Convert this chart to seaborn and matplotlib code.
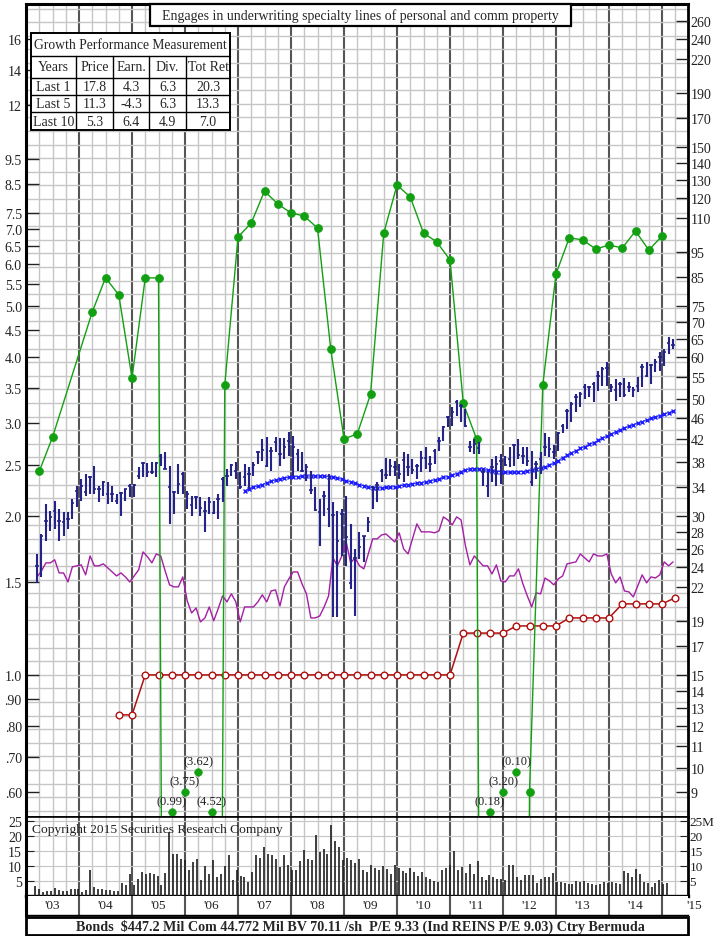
import numpy as np
import matplotlib
matplotlib.use("Agg")
import matplotlib.pyplot as plt
from matplotlib.patches import Rectangle
from matplotlib.lines import Line2D
from matplotlib.ticker import NullLocator
import seaborn as sns

W, H = 715, 937

# ---- data ----
# monthly price bars ($, right scale), first bar = Mar 2003
price_high = [
    25.4, 27.75, 31.6, 30.7, 32.0, 30.9, 30.5, 30.5, 32.3, 34.2,
    35.3, 36.1, 35.7, 37.3, 34.2, 35.0, 34.8, 34.2, 33.0, 33.3,
    33.8, 34.5, 34.5, 37.2, 38.0, 37.8, 38.0, 38.0, 39.35, 39.7,
    37.3, 33.5, 37.7, 36.4, 33.5, 32.75, 32.75, 32.6, 32.0, 32.6,
    32.0, 33.0, 35.6, 36.85, 37.7, 38.0, 36.4, 37.7, 37.2, 38.0,
    39.9, 42.0, 42.4, 40.6, 42.4, 42.2, 42.2, 43.3, 42.6, 40.2,
    39.7, 37.7, 36.5, 34.0, 32.3, 33.5, 36.1, 31.9, 30.7, 30.9,
    32.75, 29.0, 26.0, 28.0, 27.5, 29.9, 34.2, 34.8, 36.85, 38.7,
    38.5, 38.2, 37.7, 39.7, 39.35, 38.5, 37.7, 39.9, 40.6, 39.0,
    40.2, 42.4, 44.5, 46.4, 48.3, 49.8, 48.95, 47.9, 41.6, 42.0,
    41.5, 36.85, 36.4, 38.5, 39.0, 39.35, 39.0, 40.6, 41.1, 42.0,
    40.6, 40.6, 39.9, 38.2, 39.7, 43.0, 42.4, 40.8, 43.3, 44.9,
    47.9, 49.4, 51.1, 51.5, 53.35, 52.9, 53.8, 56.5, 57.5, 58.7,
    53.35, 54.5, 53.8, 54.7, 53.8, 52.7, 55.0, 58.2, 58.7, 58.2,
    59.5, 61.4, 62.2, 65.5, 64.9,
]
price_low = [
    22.4, 23.0, 26.9, 28.1, 28.35, 26.9, 27.5, 28.35, 29.6, 31.2,
    32.0, 32.75, 33.0, 33.0, 31.9, 32.75, 31.6, 31.9, 31.6, 30.0,
    32.0, 32.6, 32.6, 35.3, 35.6, 35.6, 36.1, 35.6, 37.3, 36.85,
    29.0, 30.3, 33.0, 33.0, 30.9, 30.0, 30.9, 30.0, 28.0, 30.3,
    30.3, 29.6, 31.9, 34.2, 35.7, 35.3, 33.8, 34.2, 33.8, 35.7,
    37.7, 38.2, 37.2, 36.5, 39.7, 37.3, 38.5, 39.0, 35.7, 36.5,
    36.4, 35.0, 33.0, 30.7, 26.3, 30.0, 28.6, 19.3, 19.3, 25.2,
    24.1, 21.8, 19.4, 24.9, 24.5, 28.0, 30.9, 31.9, 34.8, 35.3,
    35.7, 35.7, 35.3, 34.8, 35.7, 36.1, 35.3, 36.4, 36.85, 36.4,
    37.7, 39.9, 41.6, 44.3, 44.5, 46.4, 45.2, 44.3, 39.7, 39.35,
    39.35, 34.2, 32.6, 34.8, 34.2, 34.5, 37.3, 37.2, 37.3, 38.5,
    37.7, 37.3, 34.2, 35.3, 36.1, 39.0, 38.8, 38.5, 39.9, 43.0,
    43.9, 45.2, 47.3, 48.3, 50.0, 50.4, 49.4, 51.8, 52.9, 52.9,
    51.5, 49.6, 50.4, 50.4, 51.5, 50.4, 51.5, 52.7, 55.0, 53.35,
    56.2, 56.5, 57.7, 60.85, 62.2,
]
price_close = [
    24.1, 27.5, 29.4, 29.9, 30.7, 29.4, 29.2, 29.6, 31.8, 33.5,
    34.2, 33.3, 35.6, 33.8, 33.8, 34.8, 33.0, 33.0, 32.0, 33.2,
    33.8, 34.2, 34.4, 35.7, 37.8, 36.4, 36.4, 37.8, 39.0, 36.85,
    34.0, 33.3, 34.5, 36.1, 33.0, 31.5, 32.6, 31.1, 30.7, 31.9,
    30.4, 32.3, 35.3, 35.7, 37.5, 36.5, 34.0, 35.6, 36.1, 37.5,
    39.7, 40.0, 37.3, 39.9, 41.5, 39.35, 40.6, 41.6, 40.6, 39.35,
    36.5, 37.2, 33.6, 30.8, 30.5, 32.75, 30.9, 30.1, 26.9, 30.3,
    27.4, 22.4, 25.0, 26.2, 27.5, 29.2, 34.0, 34.4, 36.5, 35.9,
    37.3, 37.2, 36.1, 38.3, 37.2, 36.7, 37.3, 38.7, 38.7, 37.7,
    39.9, 41.6, 44.3, 46.2, 47.3, 49.4, 48.5, 44.5, 40.6, 41.1,
    40.4, 36.4, 34.2, 37.2, 37.7, 38.2, 37.5, 38.5, 40.8, 39.2,
    39.0, 38.2, 34.8, 37.7, 38.5, 40.6, 40.2, 39.7, 43.0, 44.5,
    47.5, 49.0, 50.4, 51.1, 52.7, 52.7, 53.35, 55.2, 56.95, 57.2,
    52.7, 52.0, 53.35, 50.9, 52.7, 52.0, 52.9, 57.5, 55.2, 57.95,
    58.7, 60.0, 61.4, 63.9, 63.3,
]
# moving average ($), starts at bar MA_START
MA_START = 47
moving_avg = [
    33.5, 33.8, 34.0, 34.2, 34.4, 34.7, 34.9, 35.1, 35.3, 35.4,
    35.5, 35.6, 35.6, 35.7, 35.7, 35.7, 35.7, 35.7, 35.7, 35.6,
    35.5, 35.4, 35.2, 35.0, 34.8, 34.6, 34.4, 34.2, 34.0, 33.9,
    33.9, 33.9, 34.0, 34.0, 34.1, 34.2, 34.3, 34.4, 34.5, 34.6,
    34.7, 34.8, 35.0, 35.1, 35.3, 35.5, 35.6, 35.8, 36.1, 36.4,
    36.7, 36.8, 36.85, 36.85, 36.8, 36.6, 36.5, 36.4, 36.4, 36.3,
    36.3, 36.3, 36.4, 36.4, 36.5, 36.6, 36.8, 37.0, 37.2, 37.4,
    37.8, 38.2, 38.7, 39.1, 39.5, 39.9, 40.3, 40.6, 41.0, 41.3,
    41.7, 42.1, 42.5, 42.9, 43.3, 43.7, 44.0, 44.4, 44.7, 45.0,
    45.3, 45.6, 45.9, 46.2, 46.5, 46.8, 47.1, 47.4,
]
# relative strength (left scale), monthly
rel_strength = [
    1.533, 1.574, 1.630, 1.630, 1.652, 1.560, 1.560, 1.500, 1.602, 1.609,
    1.616, 1.547, 1.680, 1.609, 1.609, 1.623, 1.595, 1.567, 1.540, 1.560,
    1.533, 1.500, 1.540, 1.581, 1.710, 1.674, 1.630, 1.695, 1.680, 1.574,
    1.481, 1.468, 1.468, 1.533, 1.381, 1.310, 1.339, 1.260, 1.282, 1.345,
    1.266, 1.334, 1.411, 1.375, 1.424, 1.375, 1.260, 1.345, 1.345, 1.345,
    1.375, 1.418, 1.375, 1.442, 1.449, 1.351, 1.468, 1.520, 1.567, 1.567,
    1.487, 1.424, 1.282, 1.282, 1.293, 1.345, 1.411, 1.666, 1.609, 1.680,
    1.786, 1.630, 1.666, 1.609, 1.588, 1.695, 1.810, 1.810, 1.841, 1.849,
    1.817, 1.786, 1.858, 1.732, 1.695, 1.810, 1.932, 1.866, 1.866, 1.866,
    1.858, 1.874, 1.992, 1.966, 1.924, 1.992, 1.966, 1.755, 1.616, 1.680,
    1.644, 1.609, 1.609, 1.553, 1.616, 1.507, 1.500, 1.540, 1.540, 1.588,
    1.487, 1.411, 1.345, 1.430, 1.424, 1.526, 1.507, 1.481, 1.520, 1.540,
    1.623, 1.630, 1.637, 1.695, 1.666, 1.637, 1.695, 1.680, 1.680, 1.695,
    1.553, 1.494, 1.533, 1.442, 1.436, 1.405, 1.474, 1.547, 1.494, 1.533,
    1.526, 1.547, 1.637, 1.609, 1.637,
]
# quarterly earnings (left scale), negatives shown as labels at the bottom
earn_dates = [
    2003.25, 2003.5, 2004.25, 2004.5, 2004.75, 2005.0, 2005.25, 2005.5,
    2005.75, 2006.0, 2006.25, 2006.5, 2006.75, 2007.0, 2007.25, 2007.5,
    2007.75, 2008.0, 2008.25, 2008.5, 2008.75, 2009.0, 2009.25, 2009.5,
    2009.75, 2010.0, 2010.25, 2010.5, 2010.75, 2011.0, 2011.25, 2011.5,
    2011.75, 2012.0, 2012.25, 2012.5, 2012.75, 2013.0, 2013.25, 2013.5,
    2013.75, 2014.0, 2014.25, 2014.5, 2014.75, 2015.0,
]
earnings = [
    2.43, 2.82, 4.87, 5.65, 5.25, 3.65, 5.65, 5.65,
    -0.99, -3.75, -3.62, -4.52, 3.54, 6.75, 7.18, 8.25,
    7.80, 7.50, 7.40, 7.02, 4.14, 2.80, 2.86, 3.40,
    6.87, 8.47, 8.04, 6.87, 6.61, 6.11, 3.27, 2.80,
    -0.18, -3.20, -0.10, 0.60, 3.54, 5.75, 6.73, 6.67,
    6.41, 6.52, 6.44, 6.93, 6.38, 6.78,
]
# quarterly dividends (left scale), from Q4 2004
DIV_FIRST = 2004.75
dividends = [0.84, 0.84] + [1.0] * 24 + [1.20] * 4 + [1.238] * 4 + [1.282] * 4 + [1.363] * 4 + [1.40]
# volume (millions of shares)
volume = [
    3.3, 2.2, 1.3, 1.6, 1.7, 2.8, 1.9, 1.6, 1.7, 2.2,
    2.4, 2.4, 1.3, 1.9, 8.8, 2.9, 2.4, 2.2, 2.1, 1.9,
    1.6, 1.6, 4.4, 3.6, 7.4, 3.8, 5.6, 8.0, 7.2, 7.6,
    7.4, 6.7, 3.8, 7.8, 21.3, 13.9, 13.9, 12.4, 11.9, 8.8,
    11.3, 12.2, 5.2, 10.0, 7.2, 11.9, 6.2, 7.4, 9.9, 13.6,
    5.4, 8.6, 6.6, 6.3, 4.7, 8.0, 13.8, 12.8, 16.3, 13.9,
    13.8, 12.4, 9.6, 13.7, 10.2, 8.6, 8.6, 11.8, 15.2, 12.2,
    12.1, 20.2, 14.7, 15.6, 13.9, 23.6, 18.2, 16.3, 11.9, 12.8,
    11.9, 11.1, 12.4, 8.6, 8.0, 10.2, 9.4, 8.6, 10.0, 9.1,
    7.4, 10.2, 9.3, 8.2, 7.8, 9.3, 8.0, 6.7, 8.0, 6.3,
    5.8, 4.9, 4.7, 8.6, 9.3, 10.2, 14.9, 8.6, 9.7, 7.8,
    10.8, 7.4, 11.7, 6.3, 5.2, 7.1, 6.3, 5.8, 5.8, 5.2,
    10.4, 10.4, 6.2, 5.4, 6.9, 7.1, 7.1, 4.4, 5.8, 6.2,
    6.2, 7.8, 4.7, 4.7, 4.4, 4.1, 4.1, 4.9, 4.7, 4.9,
    4.2, 4.1, 3.8, 4.1, 4.7, 4.4, 4.7, 4.3, 4.1, 8.2,
    7.8, 6.3, 9.1, 7.4, 4.7, 4.4, 2.9, 4.4, 5.2, 4.1,
    4.4,
]

LEFT_TICKS = [16, 14, 12, 9.5, 8.5, 7.5, 7.0, 6.5, 6.0, 5.5, 5.0, 4.5, 4.0, 3.5, 3.0,
              2.5, 2.0, 1.5, 1.0, 0.9, 0.8, 0.7, 0.6]
LEFT_LABELS = ["16", "14", "12", "9.5", "8.5", "7.5", "7.0", "6.5", "6.0", "5.5", "5.0",
               "4.5", "4.0", "3.5", "3.0", "2.5", "2.0", "1.5", "1.0", ".90", ".80", ".70", ".60"]
RIGHT_TICKS = [260, 240, 220, 190, 170, 150, 140, 130, 120, 110, 95, 85, 75, 70, 65, 60,
               55, 50, 46, 42, 38, 34, 30, 28, 26, 24, 22, 19, 17, 15, 14, 13, 12, 11, 10, 9]
PRICE_RATIO = 15  # right scale = left scale x 15

TITLE = "Engages in underwriting specialty lines of personal and comm property"
FOOTER = r"Bonds  \$447.2 Mil Com 44.772 Mil BV 70.11 /sh  P/E 9.33 (Ind REINS P/E 9.03) Ctry Bermuda"
COPYRIGHT = "Copyright 2015 Securities Research Company"
TABLE_TITLE = "Growth Performance Measurement"
TABLE_HEAD = ["Years", "Price", "Earn.", "Div.", "Tot Ret"]
TABLE_ROWS = [
    ["Last 1", "17.8", "4.3", "6.3", "20.3"],
    ["Last 5", "11.3", "-4.3", "6.3", "13.3"],
    ["Last 10", "5.3", "6.4", "4.9", "7.0"],
]
YEAR_LABELS = ["'03", "'04", "'05", "'06", "'07", "'08", "'09", "'10", "'11", "'12", "'13", "'14"]

# ---- layout / style ----
X0, X1 = 2003.0, 2015.49
LO, HI = 0.538, 18.66
NEG_LEVELS = [0.55, 0.60, 0.655]
NAVY = "#23238a"
GREEN = "#12a012"
RED = "#b01010"
PURPLE = "#a41fa4"
MA_BLUE = "#1c1cff"
LIGHT = "#c6c6c6"
DARK = "#555555"

sns.set_style("white")
plt.rcParams["font.family"] = ["Liberation Serif", "DejaVu Serif"]

month_dates = 2003 + (2.5 + np.arange(len(price_close))) / 12
div_dates = DIV_FIRST + 0.25 * np.arange(len(dividends))
vol_dates = np.linspace(2003.17, 2015.1, len(volume))


def fbox(x0, y0, x1, y1):
    return [x0 / W, 1 - y1 / H, (x1 - x0) / W, (y1 - y0) / H]


def fx(x):
    return x / W


def fy(y):
    return 1 - y / H


fig = plt.figure(figsize=(W / 100, H / 100), dpi=100)
ax = fig.add_axes(fbox(26, 5, 688, 818))
vax = fig.add_axes(fbox(26, 818, 688, 897))
lax = fig.add_axes(fbox(26, 897, 688, 916))

ax.set_yscale("log")
ax.set_xlim(X0, X1)
ax.set_ylim(LO, HI)

# grid
quarters = np.arange(X0 + 0.25, X1, 0.25)
for q in quarters:
    is_year = abs(q - round(q)) < 1e-6
    for a in (ax, vax):
        a.axvline(q, color=DARK if is_year else LIGHT, lw=1.5 if is_year else 1.0, zorder=0.5)
    if is_year:
        lax.axvline(q, color=DARK, lw=1.5)
for v in 10 ** (np.arange(-12, 50) * 0.02576):
    if LO < v < HI:
        ax.axhline(v, color=LIGHT, lw=1.0, zorder=0.5)

# relative strength, dividends, earnings on left scale
sns.lineplot(x=month_dates, y=rel_strength, ax=ax, color=PURPLE, lw=1.0,
             estimator=None, sort=False, zorder=3)
sns.lineplot(x=div_dates, y=dividends, ax=ax, color=RED, lw=1.1, marker="o",
             markersize=4.8, markerfacecolor="white", markeredgecolor=RED,
             markeredgewidth=1.0, estimator=None, sort=False, zorder=4)
earn_line = [v if v > 0 else 1e-4 for v in earnings]
sns.lineplot(x=earn_dates, y=earn_line, ax=ax, color=GREEN, lw=1.0, marker="o",
             markersize=5.5, markeredgecolor=GREEN, estimator=None, sort=False, zorder=5)

run = 0
neg_x, neg_y = [], []
for d, v in zip(earn_dates, earnings):
    if v < 0:
        lvl = NEG_LEVELS[run % 3]
        neg_x.append(d)
        neg_y.append(lvl)
        ax.annotate(f"({abs(v):.2f})", (d, lvl), xytext=(0, 7.5), textcoords="offset points",
                    ha="center", va="center", fontsize=9, color="#222222", zorder=6)
        run += 1
    else:
        run = 0
sns.scatterplot(x=neg_x, y=neg_y, ax=ax, color=GREEN, s=30, edgecolor=GREEN, zorder=6)

ax.set_yticks(LEFT_TICKS)
ax.set_yticklabels(LEFT_LABELS)
ax.yaxis.set_minor_locator(NullLocator())
ax.tick_params(axis="y", direction="in", length=9, width=1, labelsize=10, pad=3, colors="#222222")
ax.set_xticks([])
ax.set_xlabel("")
ax.set_ylabel("")
for s, lw in (("left", 2.2), ("top", 2.2), ("right", 2.0), ("bottom", 1.2)):
    ax.spines[s].set_linewidth(lw)
    ax.spines[s].set_color("black")

# price bars + moving average on right scale
ax2 = ax.twinx()
ax2.set_yscale("log")
ax2.set_ylim(LO * PRICE_RATIO, HI * PRICE_RATIO)
ax2.vlines(month_dates, price_low, price_high, color=NAVY, lw=1.5, zorder=3)
ax2.hlines(price_close, month_dates - 0.032, month_dates + 0.032, color=NAVY, lw=1.2, zorder=3)
sns.lineplot(x=month_dates[MA_START:], y=moving_avg, ax=ax2, color=MA_BLUE, lw=0.6,
             marker="x", markersize=3.0, markeredgewidth=1.0, markeredgecolor=MA_BLUE,
             estimator=None, sort=False)
ax2.set_yticks(RIGHT_TICKS)
ax2.set_yticklabels([str(t) for t in RIGHT_TICKS])
ax2.yaxis.set_minor_locator(NullLocator())
ax2.tick_params(axis="y", direction="in", length=9, width=1, labelsize=10, pad=2, colors="#222222")
ax2.set_ylabel("")
for s in ax2.spines.values():
    s.set_visible(False)

# volume
vax.set_xlim(X0, X1)
vax.set_ylim(0, 26.33)
vax.vlines(vol_dates, 0, volume, color="#1e1e1e", lw=1.2, zorder=3)
for v in (5, 10, 15, 20, 25):
    vax.axhline(v, color=LIGHT, lw=0.8, zorder=0.5)
vax.set_yticks([5, 10, 15, 20, 25])
vax.set_yticklabels(["5", "10", "15", "20", "25"])
vax.tick_params(axis="y", direction="in", length=6, labelsize=10, pad=3, colors="#222222")
vax.set_xticks([])
vax2 = vax.twinx()
vax2.set_ylim(0, 26.33)
vax2.set_yticks([5, 10, 15, 20, 25])
vax2.set_yticklabels(["5", "10", "15", "20", "25M"])
vax2.tick_params(axis="y", direction="in", length=6, labelsize=9.5, pad=1, colors="#222222")
for s in vax2.spines.values():
    s.set_visible(False)
for s, lw in (("left", 2.2), ("right", 2.0), ("top", 1.2), ("bottom", 2.4)):
    vax.spines[s].set_linewidth(lw)
    vax.spines[s].set_color("black")
vax.text(2003.12, 22.3, COPYRIGHT, fontsize=9.7, va="center", ha="left", color="#222222", zorder=5)

# year label strip
lax.set_xlim(X0, X1)
lax.set_ylim(0, 1)
lax.set_xticks([])
lax.set_yticks([])
for i, lab in enumerate(YEAR_LABELS):
    lax.text(2003.5 + i, 0.5, lab, ha="center", va="center", fontsize=9.5, color="#222222")
lax.text(2015.6, 0.5, "'15", ha="center", va="center", fontsize=9.5, color="#222222",
         clip_on=False, zorder=5)
for s, lw in (("left", 2.2), ("right", 0), ("top", 0), ("bottom", 1.0)):
    lax.spines[s].set_linewidth(lw)
    lax.spines[s].set_color("black")

# footer box
fig.add_artist(Rectangle((fx(26), fy(936)), 662 / W, 18 / H, transform=fig.transFigure,
                         fill=False, lw=2.0, ec="black"))
fig.text(fx(360), fy(927), FOOTER, ha="center", va="center", fontsize=10.2, fontweight="bold")

# title box
fig.add_artist(Rectangle((fx(150), fy(27)), (571 - 150) / W, 22 / H, transform=fig.transFigure,
                         fc="white", lw=1.6, ec="black"))
fig.text(fx(360.5), fy(16.5), TITLE, ha="center", va="center", fontsize=10, zorder=4)

# growth table
cols = [31, 76, 113, 149, 186, 230]
rows = [34, 57, 79, 96, 113, 131]
fig.add_artist(Rectangle((fx(cols[0]), fy(rows[-1])), (cols[-1] - cols[0]) / W,
                         (rows[-1] - rows[0]) / H, transform=fig.transFigure,
                         fc="white", lw=1.4, ec="black"))
for r in rows[1:-1]:
    fig.add_artist(Line2D([fx(cols[0]), fx(cols[-1])], [fy(r), fy(r)],
                          transform=fig.transFigure, color="black", lw=1.0))
for c in cols[1:-1]:
    fig.add_artist(Line2D([fx(c), fx(c)], [fy(rows[1]), fy(rows[-1])],
                          transform=fig.transFigure, color="black", lw=1.0))
fig.text(fx((cols[0] + cols[-1]) / 2), fy((rows[0] + rows[1]) / 2), TABLE_TITLE,
         ha="center", va="center", fontsize=9.8, zorder=4)
for j, txt in enumerate(TABLE_HEAD):
    fig.text(fx((cols[j] + cols[j + 1]) / 2), fy((rows[1] + rows[2]) / 2), txt,
             ha="center", va="center", fontsize=10, zorder=4)
for i, row in enumerate(TABLE_ROWS):
    for j, txt in enumerate(row):
        fig.text(fx((cols[j] + cols[j + 1]) / 2), fy((rows[i + 2] + rows[i + 3]) / 2), txt,
                 ha="center", va="center", fontsize=10, zorder=4)

fig.savefig("out.png", dpi=100)
